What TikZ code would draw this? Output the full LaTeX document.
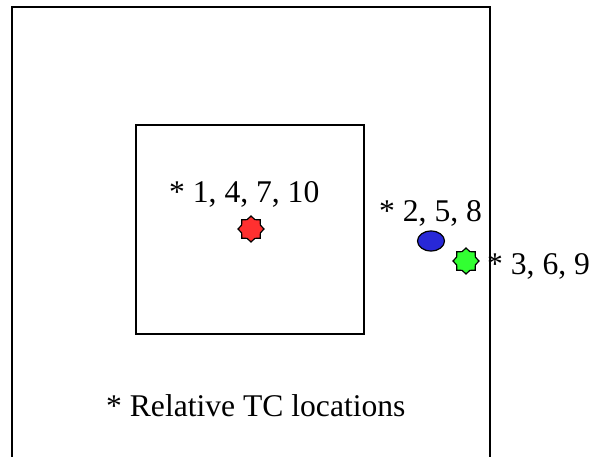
\documentclass[tikz,border=0pt]{standalone}
\usepackage{fontspec}
\setmainfont{Liberation Serif}
\usetikzlibrary{shapes.geometric}
\definecolor{tcred}{RGB}{255,48,48}
\definecolor{tcblue}{RGB}{40,40,215}
\definecolor{tcgreen}{RGB}{50,255,50}
\begin{document}
\begin{tikzpicture}[x=1pt,y=-1pt,
  box/.style={draw=black,line width=1.5pt},
  lbl/.style={anchor=base west,inner sep=0pt,font=\fontsize{31.6}{36}\selectfont},
  tcstar/.style={star,star points=8,star point ratio=1.28,minimum size=26pt,inner sep=0pt,draw=black,line width=1.2pt}]
\useasboundingbox (0,0) rectangle (592,457);
\fill[white] (0,0) rectangle (592,457);
\draw[box] (12,470) -- (12,7) -- (490,7) -- (490,470);
\draw[box] (136,125) rectangle (364,334);
\node[lbl] (t1) at (169,203) {* 1, 4, 7, 10};
\node[tcstar,fill=tcred] (s1) at (251,229) {};
\node[lbl] (t2) at (379,222) {* 2, 5, 8};
\node[ellipse,draw=black,line width=1.2pt,fill=tcblue,minimum width=27pt,minimum height=20pt,inner sep=0pt] (s2) at (431,241) {};
\node[tcstar,fill=tcgreen] (s3) at (466,261) {};
\node[lbl] (t3) at (487,275) {* 3, 6, 9};
\node[lbl] (t4) at (106,416) {* Relative TC locations};
\end{tikzpicture}
\end{document}
